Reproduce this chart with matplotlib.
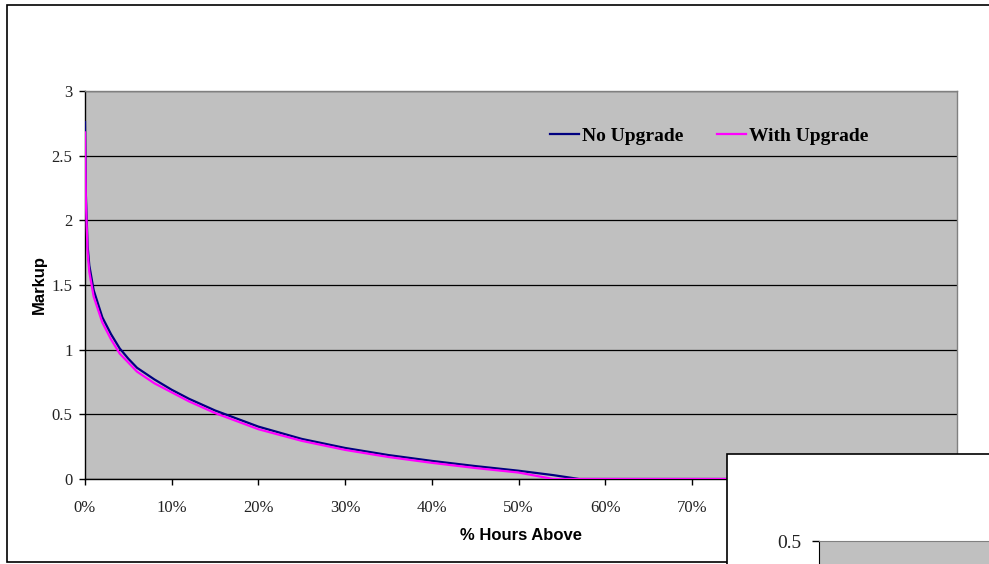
import numpy as np
import matplotlib.pyplot as plt
from matplotlib.patches import Rectangle
from matplotlib.ticker import FuncFormatter

# markup duration curve, share of hours (0-1) vs markup
hours_pct = [0.0, 0.001, 0.003, 0.005, 0.01, 0.02, 0.03, 0.04, 0.05, 0.06, 0.08,
             0.10, 0.12, 0.15, 0.20, 0.25, 0.30, 0.35, 0.40, 0.45, 0.50, 0.54,
             0.57, 1.0]
no_upgrade = [2.76, 2.20, 1.80, 1.65, 1.46, 1.25, 1.12, 1.01, 0.93, 0.86, 0.77,
              0.69, 0.62, 0.53, 0.405, 0.31, 0.24, 0.185, 0.14, 0.10, 0.064, 0.03,
              0.0, 0.0]
with_upgrade = [2.68, 2.15, 1.75, 1.60, 1.41, 1.21, 1.08, 0.97, 0.90, 0.83, 0.74,
                0.67, 0.60, 0.51, 0.385, 0.295, 0.225, 0.17, 0.125, 0.085, 0.05, 0.0,
                0.0, 0.0]
x_ticks = [0.0, 0.1, 0.2, 0.3, 0.4, 0.5, 0.6, 0.7, 0.8, 0.9, 1.0]
y_ticks = [0, 0.5, 1, 1.5, 2, 2.5, 3]

W, H = 989, 564
fig = plt.figure(figsize=(W / 100, H / 100), dpi=100)

serif = ['Liberation Serif', 'DejaVu Serif']
sans = ['Liberation Sans', 'DejaVu Sans']

# outer chart frame
fig.add_artist(Rectangle((7 / W, 1 - 562 / H), 2.0, 557 / H,
                         transform=fig.transFigure, facecolor='white',
                         edgecolor='black', lw=1.2, zorder=-1))

ax = fig.add_axes([85 / W, 1 - 479 / H, 872 / W, 388 / H])
ax.set_facecolor('#C0C0C0')
ax.plot(hours_pct, no_upgrade, color='#000080', lw=1.6, label='No Upgrade', zorder=3)
ax.plot(hours_pct, with_upgrade, color='#FF00FF', lw=1.6, label='With Upgrade', zorder=4)

ax.set_xlim(0, 872 / 867)
ax.set_ylim(0, 3)
ax.set_xticks(x_ticks)
ax.xaxis.set_major_formatter(FuncFormatter(lambda v, p: '%d%%' % round(v * 100)))
ax.set_yticks(y_ticks)
ax.set_yticklabels(['0', '0.5', '1', '1.5', '2', '2.5', '3'])
ax.grid(axis='y', color='black', lw=0.9)
ax.set_axisbelow(True)

for s in ['top', 'right']:
    ax.spines[s].set_color('#808080')
    ax.spines[s].set_linewidth(1.0)
for s in ['left', 'bottom']:
    ax.spines[s].set_color('black')
    ax.spines[s].set_linewidth(1.0)

ax.tick_params(axis='x', direction='out', length=4, width=1, pad=11, labelsize=12)
ax.tick_params(axis='y', direction='out', length=4, width=1, pad=5, labelsize=12)
for lab in ax.get_xticklabels() + ax.get_yticklabels():
    lab.set_family(serif)
    lab.set_color('#222222')

ax.set_xlabel('% Hours Above', family=sans, fontweight='bold', fontsize=12, labelpad=9)
ax.set_ylabel('Markup', family=sans, fontweight='bold', fontsize=12, labelpad=3)

leg = ax.legend(loc='center left', bbox_to_anchor=(550 / W, 1 - 136 / H),
                bbox_transform=fig.transFigure, ncol=2, frameon=False,
                handlelength=1.5, handletextpad=0.15, columnspacing=1.7,
                borderpad=0, borderaxespad=0,
                prop={'family': serif, 'weight': 'bold', 'size': 14})

# overlapping chart in the lower right corner
fig.add_artist(Rectangle((727 / W, -0.05), 0.5, 0.05 + 1 - 454 / H,
                         transform=fig.transFigure, facecolor='white',
                         edgecolor='black', lw=1.2, zorder=5))

ax2 = fig.add_axes([819 / W, -0.1, 0.3, 0.1 + 1 - 541 / H], zorder=10)
ax2.set_facecolor('#C0C0C0')
ax2.set_ylim(0, 0.5)
ax2.set_yticks([0.5])
ax2.set_yticklabels(['0.5'])
ax2.set_xticks([])
ax2.spines['top'].set_color('#808080')
ax2.spines['left'].set_color('black')
ax2.tick_params(axis='y', direction='out', length=5, width=1, pad=8, labelsize=14)
for lab in ax2.get_yticklabels():
    lab.set_family(serif)
    lab.set_color('#222222')

fig.savefig('out.png', dpi=100)
